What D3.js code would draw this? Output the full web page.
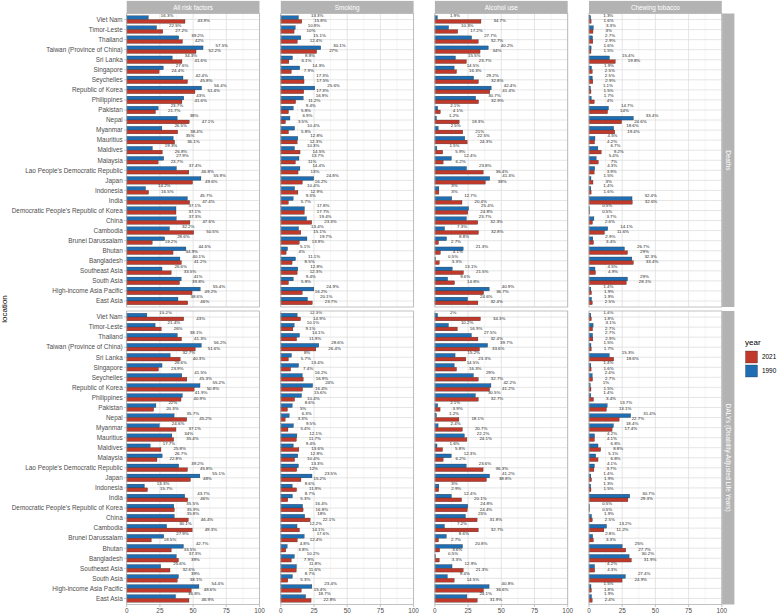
<!DOCTYPE html>
<html>
<head>
<meta charset="utf-8">
<script src="https://cdn.jsdelivr.net/npm/d3@7"></script>
<style>
  body { margin: 0; background: #fff; }
  svg { display: block; font-family: "Liberation Sans", Arial, sans-serif; }
</style>
</head>
<body>
<svg id="chart" width="779" height="614"></svg>
<script>
// locations, top to bottom as drawn
const locations = ["Viet Nam", "Timor-Leste", "Thailand", "Taiwan (Province of China)", "Sri Lanka",
  "Singapore", "Seychelles", "Republic of Korea", "Philippines", "Pakistan", "Nepal", "Myanmar",
  "Mauritius", "Maldives", "Malaysia", "Lao People's Democratic Republic", "Japan", "Indonesia",
  "India", "Democratic People's Republic of Korea", "China", "Cambodia", "Brunei Darussalam",
  "Bhutan", "Bangladesh", "Southeast Asia", "South Asia", "High-income Asia Pacific", "East Asia"];

const risk_factors = ["All risk factors", "Smoking", "Alcohol use", "Chewing tobacco"];
const measures = ["Deaths", "DALYs (Disability-Adjusted Life Years)"];
const years = ["2021", "1990"];
const x_ticks = [0, 25, 50, 75, 100];

// Deaths, percent attributable
const deaths_all_1990 = [16.3, 22.5, 39.2, 57.5, 34.3, 27.6, 42.4, 56.4, 43, 23.7, 38, 26.5, 35, 19.3, 27.9, 37.4, 55.9, 14.2, 45.7, 37.1, 37.3, 32.2, 28.6, 44.6, 40.1, 26.6, 41, 55.4, 38.6];
const deaths_all_2021 = [43.9, 27.2, 42, 52.2, 41.6, 24.4, 45.8, 51.4, 41.6, 21.7, 47.1, 38.4, 36.1, 26.8, 23.7, 46.8, 49.6, 16.5, 47.4, 37.1, 47.6, 50.5, 19.2, 34.9, 41.2, 33.5, 39.8, 49.2, 46];
const deaths_smoking_1990 = [13.3, 10.9, 15.1, 30.1, 8.8, 14.3, 17.3, 25.6, 16.9, 9.4, 6.9, 10.4, 12.8, 10.3, 13.7, 14.4, 24.8, 10.4, 9.3, 17.8, 19.4, 13.4, 19.7, 5.1, 11.1, 12.8, 9.4, 24.9, 20.1];
const deaths_smoking_2021 = [15.8, 10, 12.4, 27, 6.1, 7.9, 17.5, 17.3, 11.2, 5.8, 3.5, 5.8, 12.3, 14.5, 11, 13, 16.2, 12.9, 5.7, 17.7, 23.3, 15.1, 13.9, 4, 8.5, 12.3, 5.8, 16.2, 23.7];
const deaths_alcohol_1990 = [1.9, 10.3, 27.7, 40.2, 15.5, 14.5, 29.2, 42.4, 30.7, 2.1, 1.2, 2.5, 22.5, 1.5, 12.4, 23.8, 41.3, 3, 12.7, 25.4, 23.7, 7.3, 8.8, 21.3, 0.5, 13.1, 9.6, 40.9, 24.6];
const deaths_alcohol_2021 = [34.7, 17.2, 32.7, 34, 23.7, 16.3, 32.8, 41.4, 32.9, 4.1, 18.3, 21, 24.3, 5.9, 6.2, 36.4, 38, 3, 20.4, 24.8, 32.3, 32.8, 2.7, 4.1, 3.3, 21.5, 14.8, 36.7, 32.4];
const deaths_chewing_1990 = [1.3, 3.3, 2.7, 1.6, 15.4, 1.9, 2.5, 1.1, 1.7, 14.7, 33.4, 18.6, 4.5, 6.7, 5.4, 4.3, 1.5, 1.4, 32.4, 0.5, 3.7, 14.1, 2.9, 26.7, 32.3, 4.5, 29, 1.4, 1.9];
const deaths_chewing_2021 = [1.6, 3, 2.9, 1.5, 19.8, 2.5, 2.9, 1.5, 4, 14, 24.6, 19.4, 4.2, 9.2, 7, 3.9, 3, 1.6, 32.6, 0.5, 2.6, 11.6, 3.4, 29, 33.4, 4.9, 28.1, 1.9, 2.5];

// DALYs, percent attributable
const dalys_all_1990 = [15.2, 21.4, 38.1, 56.2, 32.7, 26.6, 41.5, 55.2, 41.9, 22, 35.7, 24.6, 34, 17.7, 26.7, 39.2, 55.1, 13.3, 43.7, 35.5, 35.8, 30.1, 27.9, 42.7, 37.3, 25.6, 39, 54.4, 36.8];
const dalys_all_2021 = [43, 26, 41.3, 51.6, 40.3, 23.9, 45.3, 50.8, 40.9, 20.3, 45.2, 37.1, 35.4, 25.8, 22.8, 45.8, 48, 15.7, 46, 35.9, 46.4, 49.3, 18.5, 33.5, 39, 32.6, 38.1, 48.6, 46.9];
const dalys_smoking_1990 = [12.3, 10.1, 14.1, 28.6, 8, 13.4, 16.2, 24, 15.6, 8.6, 6.3, 9.5, 12.1, 9.4, 12.8, 13.3, 23.5, 8.6, 8.7, 16.4, 18, 12.2, 17.6, 4.8, 10.2, 11.8, 8.7, 23.4, 18.7];
const dalys_smoking_2021 = [14.9, 9.1, 11.9, 26.4, 5.7, 7.4, 16.9, 16.4, 10.4, 5, 3.3, 5.4, 11.7, 13.6, 10.4, 12, 15.2, 11.9, 5.3, 16.8, 22.1, 14.1, 12.4, 3.8, 7.9, 11.6, 5.3, 15.4, 22.8];
const dalys_alcohol_1990 = [2, 10.2, 27.5, 39.7, 15.2, 14.5, 29, 42.2, 30.5, 2.1, 1.2, 2.4, 22.2, 1.6, 12.3, 23.6, 41.2, 3, 12.4, 24.8, 23, 7.2, 8.6, 20.8, 0.5, 12.9, 9.4, 40.8, 24.1];
const dalys_alcohol_2021 = [34.3, 16.9, 32.4, 33.6, 23.3, 16.3, 32.7, 41.2, 32.7, 3.9, 18.1, 20.7, 24.1, 5.8, 6.2, 36.3, 38.8, 2.9, 20.1, 24.4, 31.8, 32.7, 2.7, 3.6, 3.3, 21.3, 14.5, 36.6, 31.9];
const dalys_chewing_1990 = [1.4, 3.1, 2.7, 1.5, 15.3, 1.4, 2.4, 1, 1.4, 13.7, 31.4, 18.4, 4.2, 6.8, 5.1, 4.1, 1.4, 1.3, 30.7, 0.5, 1.9, 13.2, 2.8, 25, 30.2, 4.2, 27.4, 1.5, 1.9];
const dalys_chewing_2021 = [1.8, 2.7, 2.9, 1.7, 18.6, 1.6, 2.7, 1.5, 3.4, 13.1, 22.7, 17.4, 4.1, 8.8, 6.8, 3.7, 1.9, 1.5, 29.3, 0.5, 2.5, 11.2, 3.3, 27.7, 31.9, 4.3, 24.9, 1.8, 2.4];

const panel_values = [
  [[deaths_all_1990, deaths_all_2021], [deaths_smoking_1990, deaths_smoking_2021],
   [deaths_alcohol_1990, deaths_alcohol_2021], [deaths_chewing_1990, deaths_chewing_2021]],
  [[dalys_all_1990, dalys_all_2021], [dalys_smoking_1990, dalys_smoking_2021],
   [dalys_alcohol_1990, dalys_alcohol_2021], [dalys_chewing_1990, dalys_chewing_2021]]
];

const colors = { "2021": "#c0392b", "1990": "#1f6db3" };

const panel_left = 126.7, panel_w = 132.8, col_step = 154.1;
const panel_tops = [13.5, 311], panel_h = 293.5;
const strip_h = 12.6;

const svg = d3.select("#chart");

const x = d3.scaleLinear().domain([0, 100]).range([0, panel_w]);
const y = d3.scaleBand().domain(locations).range([0, panel_h]).paddingInner(0).paddingOuter(0.1);
const step = y.step();
const bar_h = step * 0.375;

// column strips
risk_factors.forEach((rf, c) => {
  const gx = panel_left + c * col_step;
  svg.append("rect").attr("x", gx).attr("y", panel_tops[0] - strip_h).attr("width", panel_w).attr("height", strip_h)
    .attr("fill", "#b3b3b3");
  svg.append("text").attr("x", gx + panel_w / 2).attr("y", panel_tops[0] - strip_h / 2 + 2.3)
    .attr("text-anchor", "middle").attr("fill", "#fff").attr("font-size", 6.4).text(rf);
});

// row strips
const strip_x = panel_left + 3 * col_step + panel_w;
measures.forEach((m, r) => {
  svg.append("rect").attr("x", strip_x).attr("y", panel_tops[r]).attr("width", strip_h).attr("height", panel_h)
    .attr("fill", "#b3b3b3");
  svg.append("text")
    .attr("transform", `translate(${strip_x + strip_h / 2 - 2.3},${panel_tops[r] + panel_h / 2}) rotate(90)`)
    .attr("text-anchor", "middle").attr("fill", "#fff").attr("font-size", 6.4).text(m);
});

measures.forEach((m, r) => {
  risk_factors.forEach((rf, c) => {
    const g = svg.append("g").attr("transform", `translate(${panel_left + c * col_step},${panel_tops[r]})`);
    // grid
    const minor = d3.range(12.5, 100, 25);
    g.selectAll(".minor").data(minor).enter().append("line")
      .attr("x1", d => x(d)).attr("x2", d => x(d)).attr("y1", 0).attr("y2", panel_h)
      .attr("stroke", "#ececec").attr("stroke-width", 0.5);
    g.selectAll(".major").data(x_ticks).enter().append("line")
      .attr("x1", d => x(d)).attr("x2", d => x(d)).attr("y1", 0).attr("y2", panel_h)
      .attr("stroke", "#dedede").attr("stroke-width", 0.8);
    g.selectAll(".hgrid").data(locations).enter().append("line")
      .attr("x1", 0).attr("x2", panel_w)
      .attr("y1", d => y(d) + step / 2).attr("y2", d => y(d) + step / 2)
      .attr("stroke", "#dedede").attr("stroke-width", 0.8);

    const [v1990, v2021] = panel_values[r][c];
    const rows = locations.map((loc, i) => ({ loc, v1990: v1990[i], v2021: v2021[i] }));

    const center = d => y(d.loc) + step / 2;
    // 1990 bars (upper)
    g.selectAll(".b90").data(rows).enter().append("rect")
      .attr("x", x(0)).attr("y", d => center(d) - bar_h)
      .attr("width", d => x(d.v1990) - x(0)).attr("height", bar_h)
      .attr("fill", colors["1990"]).attr("stroke", "#2b2b2b").attr("stroke-width", 0.3);
    // 2021 bars (lower)
    g.selectAll(".b21").data(rows).enter().append("rect")
      .attr("x", x(0)).attr("y", d => center(d))
      .attr("width", d => x(d.v2021) - x(0)).attr("height", bar_h)
      .attr("fill", colors["2021"]).attr("stroke", "#2b2b2b").attr("stroke-width", 0.3);

    // value labels
    g.selectAll(".l90").data(rows).enter().append("text")
      .attr("x", d => x(d.v1990) + 12.5).attr("y", d => center(d) - step * 0.45 + 1.5)
      .attr("font-size", 4.4).attr("fill", "#222").text(d => d.v1990 + "%");
    g.selectAll(".l21").data(rows).enter().append("text")
      .attr("x", d => x(d.v2021) + 12.5).attr("y", d => center(d) + step * 0.1 + 1.5)
      .attr("font-size", 4.4).attr("fill", "#222").text(d => d.v2021 + "%");

    // border
    g.append("rect").attr("width", panel_w).attr("height", panel_h)
      .attr("fill", "none").attr("stroke", "#b3b3b3").attr("stroke-width", 0.8);

    // y axis labels on first column
    if (c === 0) {
      g.selectAll(".ytick").data(locations).enter().append("line")
        .attr("x1", -2.5).attr("x2", 0).attr("y1", d => y(d) + step / 2).attr("y2", d => y(d) + step / 2)
        .attr("stroke", "#b3b3b3").attr("stroke-width", 0.8);
      g.selectAll(".ylab").data(locations).enter().append("text")
        .attr("x", -4).attr("y", d => y(d) + step / 2 + 2.3)
        .attr("text-anchor", "end").attr("font-size", 6.4).attr("fill", "#4d4d4d").text(d => d);
    }
    // x axis on bottom row
    if (r === 1) {
      g.selectAll(".xtick").data(x_ticks).enter().append("line")
        .attr("x1", d => x(d)).attr("x2", d => x(d)).attr("y1", panel_h).attr("y2", panel_h + 2.5)
        .attr("stroke", "#b3b3b3").attr("stroke-width", 0.8);
      g.selectAll(".xlab").data(x_ticks).enter().append("text")
        .attr("x", d => x(d)).attr("y", panel_h + 8.6)
        .attr("text-anchor", "middle").attr("font-size", 6.4).attr("fill", "#4d4d4d").text(d => d);
    }
  });
});

// axis title
svg.append("text").attr("transform", `translate(7,${(panel_tops[0] + panel_tops[1] + panel_h) / 2}) rotate(-90)`)
  .attr("text-anchor", "middle").attr("font-size", 8).attr("fill", "#000").text("location");

// legend
const leg = svg.append("g").attr("transform", "translate(745,345)");
leg.append("text").attr("x", 0).attr("y", 0).attr("font-size", 8).text("year");
years.forEach((yr, i) => {
  leg.append("rect").attr("x", 0.5).attr("y", 6 + i * 14).attr("width", 12).attr("height", 12)
    .attr("fill", colors[yr]).attr("stroke", "#2b2b2b").attr("stroke-width", 0.3);
  leg.append("text").attr("x", 17).attr("y", 6 + i * 14 + 8.3).attr("font-size", 6.4).text(yr);
});
</script>
</body>
</html>
